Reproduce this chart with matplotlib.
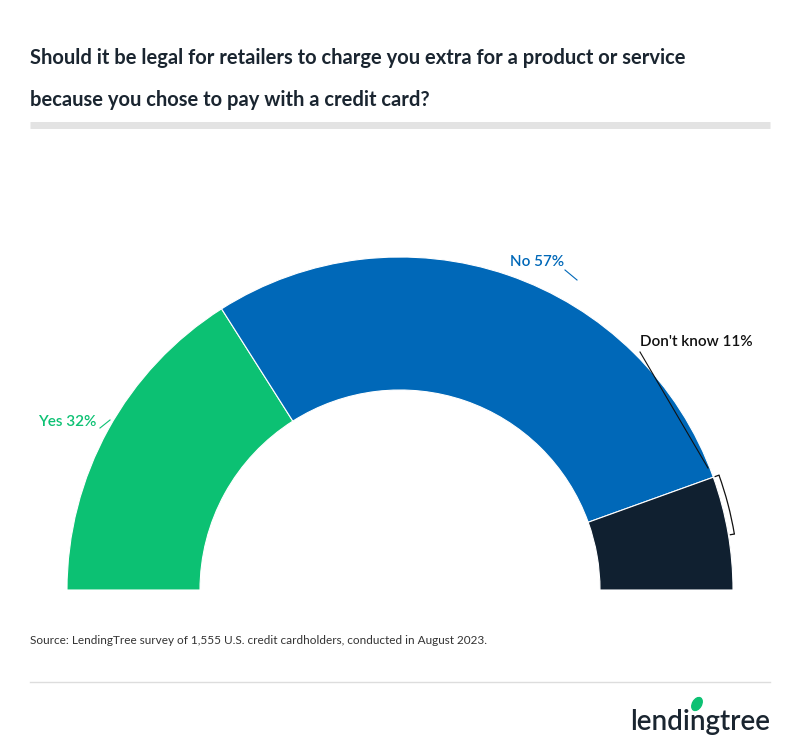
import numpy as np
import matplotlib
matplotlib.use("Agg")
from matplotlib import pyplot as plt
from matplotlib.patches import Wedge, Arc, Ellipse

plt.rcParams['font.family'] = ['Lato', 'DejaVu Sans']

labels = ["Yes", "No", "Don't know"]
values = [32, 57, 11]
colors = ["#0cc173", "#0068b8", "#102030"]

fig = plt.figure(figsize=(8, 7.53), dpi=100)
ax = fig.add_axes([0, 0, 1, 1])
ax.set_xlim(0, 800)
ax.set_ylim(0, 753)
ax.axis("off")

H = 753
fig.text(30 / 800, 1 - 58 / H, "Should it be legal for retailers to charge you extra for a product or service",
         fontsize=14.5, fontweight="bold", color="#1a2530", va="center")
fig.text(30 / 800, 1 - 100 / H, "because you chose to pay with a credit card?",
         fontsize=14.5, fontweight="bold", color="#1a2530", va="center")
ax.plot([30, 770], [H - 125, H - 125], color="#e3e3e3", lw=5, solid_capstyle="butt")

cx, cy = 400, H - 590
R, r = 333, 200
start = 180.0
mids = []
for lab, v, c in zip(labels, values, colors):
    span = v / sum(values) * 180
    t1, t2 = start - span, start
    ax.add_patch(Wedge((cx, cy), R, t1, t2, width=R - r, facecolor=c, edgecolor="white", lw=0.8))
    mids.append((t1, t2))
    start = t1

# Yes label
ax.text(38, H - 422, f"{labels[0]} {values[0]}%", color=colors[0], fontsize=11, va="center", fontweight="semibold")
ax.plot([100, 110], [H - 428, H - 420], color=colors[0], lw=0.8)
# No label
ax.text(510, H - 262, f"{labels[1]} {values[1]}%", color=colors[1], fontsize=11, va="center", fontweight="semibold")
ax.plot([565, 577], [H - 270, H - 280], color=colors[1], lw=0.8)
# Don't know label with bracket
ax.text(640, H - 342, f"{labels[2]} {values[2]}%", color="#111111", fontsize=11, va="center", fontweight="semibold")
t1, t2 = mids[2]
rb = R + 6
ax.add_patch(Arc((cx, cy), 2 * rb, 2 * rb, theta1=t1 + 9.5, theta2=t2, color="#111111", lw=0.9))
for t in (t1 + 9.5, t2):
    a = np.radians(t)
    ax.plot([cx + (rb - 4) * np.cos(a), cx + rb * np.cos(a)],
            [cy + (rb - 4) * np.sin(a), cy + rb * np.sin(a)], color="#111111", lw=0.9)
ax.plot([640, 708], [H - 352, H - 468], color="#111111", lw=0.8)

fig.text(30 / 800, 1 - 641 / H, "Source: LendingTree survey of 1,555 U.S. credit cardholders, conducted in August 2023.",
         fontsize=8.5, color="#333333", va="center")
ax.plot([30, 770], [H - 682, H - 682], color="#dddddd", lw=1)

fig.text(770 / 800, 1 - 722 / H, "lendingtree", fontsize=20, color="#1a2530", ha="right", va="center",
         fontweight="semibold")
ax.add_patch(Ellipse((697, H - 704), 9, 14, angle=-30, color="#0cc173"))

fig.savefig("out.png", dpi=100)
